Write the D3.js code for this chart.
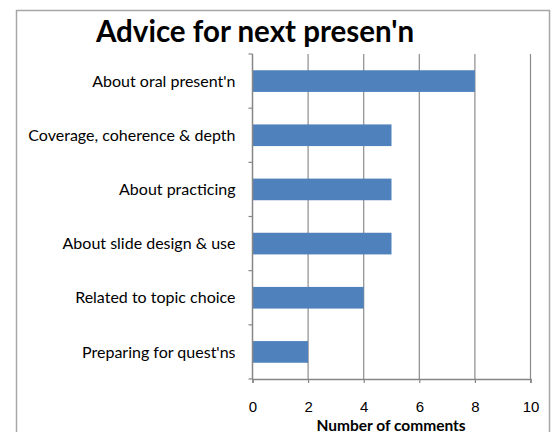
<!DOCTYPE html>
<html>
<head>
<meta charset="utf-8">
<script src="https://cdn.jsdelivr.net/npm/d3@7"></script>
<style>
  body { margin: 0; background: #fff; }
  svg { display: block; font-family: Lato, "Open Sans", sans-serif; }
</style>
</head>
<body>
<div id="chart"></div>
<script>
// Chart data
const categories = ["About oral present'n", "Coverage, coherence & depth", "About practicing",
  "About slide design & use", "Related to topic choice", "Preparing for quest'ns"];
const counts = [8, 5, 5, 5, 4, 2];
const xTicks = [0, 2, 4, 6, 8, 10];

const W = 560, H = 432;
const margin = { top: 54, left: 252.5, right: 29.5, bottom: 53 };
const width = W - margin.left - margin.right;
const height = H - margin.top - margin.bottom;

const svg = d3.select("#chart").append("svg")
  .attr("width", W)
  .attr("height", H);

// outer frame of the chart
svg.append("rect")
  .attr("x", 16.5).attr("y", 10.5)
  .attr("width", 533).attr("height", 440)
  .attr("fill", "none")
  .attr("stroke", "#a6a6a6")
  .attr("stroke-width", 1.5);

const g = svg.append("g")
  .attr("transform", `translate(${margin.left},${margin.top})`);

const x = d3.scaleLinear().domain([0, 10]).range([0, width]);
const y = d3.scaleBand().domain(categories).range([0, height]).paddingInner(0.6).paddingOuter(0.3);
const yBand = d3.scaleBand().domain(categories).range([0, height]);

// vertical gridlines
g.selectAll(".grid")
  .data(xTicks.slice(1))
  .join("line")
  .attr("class", "grid")
  .attr("x1", d => x(d)).attr("x2", d => x(d))
  .attr("y1", 0).attr("y2", height)
  .attr("stroke", "#8c8c8c")
  .attr("stroke-width", 1.2);

// bars
g.selectAll(".bar")
  .data(categories)
  .join("rect")
  .attr("class", "bar")
  .attr("x", x(0))
  .attr("y", d => y(d))
  .attr("width", (d, i) => x(counts[i]) - x(0))
  .attr("height", y.bandwidth())
  .attr("fill", "#4f81bd");

// x axis
const xAxis = g.append("g")
  .attr("transform", `translate(0,${height})`)
  .call(d3.axisBottom(x).tickValues(xTicks).tickSize(4).tickPadding(18));
xAxis.select(".domain").attr("stroke", "#868686").attr("stroke-width", 1.5);
xAxis.selectAll(".tick line").attr("stroke", "#868686").attr("stroke-width", 1.2);
xAxis.selectAll(".tick text").style("font-size", "15px").attr("fill", "#000");

// y axis: category boundaries as ticks
const yAxis = g.append("g");
yAxis.append("line")
  .attr("x1", 0).attr("x2", 0).attr("y1", 0).attr("y2", height)
  .attr("stroke", "#868686").attr("stroke-width", 1.5);
yAxis.selectAll(".ytick")
  .data(categories.concat(["end"]))
  .join("line")
  .attr("class", "ytick")
  .attr("x1", -4).attr("x2", 0)
  .attr("y1", (d, i) => i * yBand.bandwidth())
  .attr("y2", (d, i) => i * yBand.bandwidth())
  .attr("stroke", "#868686").attr("stroke-width", 1.2);
yAxis.selectAll(".ylabel")
  .data(categories)
  .join("text")
  .attr("class", "ylabel")
  .attr("x", -17)
  .attr("y", d => yBand(d) + yBand.bandwidth() / 2)
  .attr("dy", "0.35em")
  .attr("text-anchor", "end")
  .style("font-size", "16px")
  .text(d => d);

// axis title
svg.append("text")
  .attr("x", 391).attr("y", 430.5)
  .attr("text-anchor", "middle")
  .style("font-size", "15.5px")
  .style("font-weight", "bold")
  .text("Number of comments");

// chart title
svg.append("text")
  .attr("x", 255).attr("y", 42)
  .attr("text-anchor", "middle")
  .style("font-size", "29.5px")
  .style("font-weight", "bold")
  .text("Advice for next presen'n");
</script>
</body>
</html>
